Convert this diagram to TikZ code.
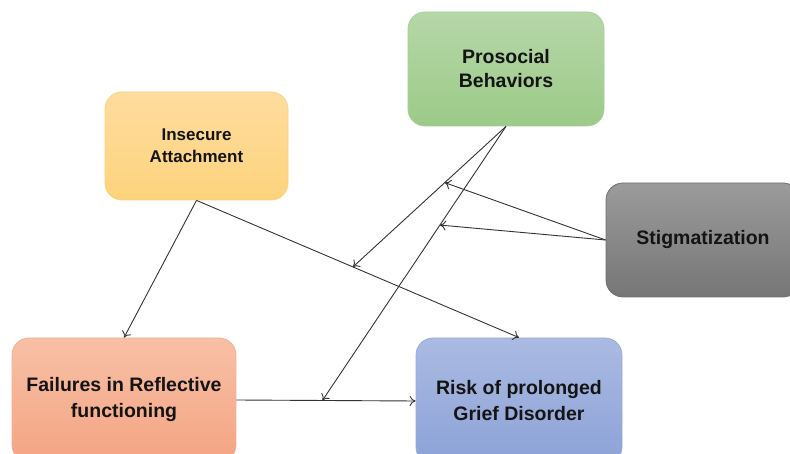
\documentclass[tikz,border=0pt]{standalone}
\usepackage{fontspec}
\setmainfont{Liberation Sans}
\usetikzlibrary{calc,arrows.meta}

\definecolor{proTop}{HTML}{B6D7A8}
\definecolor{proBot}{HTML}{9CCA88}
\definecolor{proLine}{HTML}{A6CF94}
\definecolor{insTop}{HTML}{FEDC9E}
\definecolor{insBot}{HTML}{FDD37C}
\definecolor{insLine}{HTML}{F9D27E}
\definecolor{stgTop}{HTML}{9B9B9B}
\definecolor{stgBot}{HTML}{767676}
\definecolor{stgLine}{HTML}{6E6E6E}
\definecolor{failTop}{HTML}{F8C0A6}
\definecolor{failBot}{HTML}{F4A483}
\definecolor{failLine}{HTML}{F3B095}
\definecolor{riskTop}{HTML}{AABAE2}
\definecolor{riskBot}{HTML}{8CA2D7}
\definecolor{riskLine}{HTML}{98ACDB}
\definecolor{linkGray}{HTML}{333333}

\tikzset{
  box/.style={rectangle, rounded corners=17pt, line width=0.8pt, align=center,
    inner sep=0pt, text=black!92,
    font=\bfseries\fontsize{19.5}{24}\selectfont},
  link/.style={draw=linkGray, line width=0.9pt, -{To[length=6pt,width=10pt]}}
}

\begin{document}
\begin{tikzpicture}[x=1pt,y=-1pt]
\useasboundingbox (0,0) rectangle (790,454);
\clip (0,0) rectangle (790,454);
\node[box, draw=proLine, top color=proTop, bottom color=proBot,
  minimum width=196pt, minimum height=114pt] (pro) at (506,69) {Prosocial\\Behaviors}; % Prosocial
\node[box, draw=insLine, top color=insTop, bottom color=insBot,
  minimum width=183pt, minimum height=108pt,
  font=\bfseries\fontsize{17}{22}\selectfont] (ins) at (196.5,146) {Insecure\\Attachment}; % Insecure
\node[box, draw=stgLine, top color=stgTop, bottom color=stgBot,
  minimum width=194pt, minimum height=114pt] (stg) at (703,240) {Stigmatization}; % Stigmatization
\node[box, draw=failLine, top color=failTop, bottom color=failBot,
  minimum width=224pt, minimum height=124pt,
  font=\bfseries\fontsize{19.5}{26}\selectfont] (fail) at (124,400) {Failures in Reflective\\functioning}; % Failures
\node[box, draw=riskLine, top color=riskTop, bottom color=riskBot,
  minimum width=206pt, minimum height=126pt,
  font=\bfseries\fontsize{19.5}{26}\selectfont] (risk) at (519,401) {Risk of prolonged\\Grief Disorder}; % Risk

\coordinate (m1) at ($(ins.south)!0.485!(risk.north)$); % on ins -> risk
\coordinate (m2) at ($(fail.east)!0.48!(risk.west)$); % on fail -> risk
\coordinate (s1) at ($(pro.south)!0.4!(m1)$); % on pro -> m1
\coordinate (s2) at ($(pro.south)!0.36!(m2)$); % on pro -> m2

\draw[link] (ins.south) -- (fail.north); % ins -> fail
\draw[link] (ins.south) -- (risk.north); % ins -> risk
\draw[link] (fail.east) -- (risk.west); % fail -> risk
\draw[link] (pro.south) -- (m1); % pro moderates
\draw[link] (pro.south) -- (m2); % pro moderates
\draw[link] (stg.west) -- (s1); % stg moderates
\draw[link] (stg.west) -- (s2); % stg moderates
\end{tikzpicture}
\end{document}
